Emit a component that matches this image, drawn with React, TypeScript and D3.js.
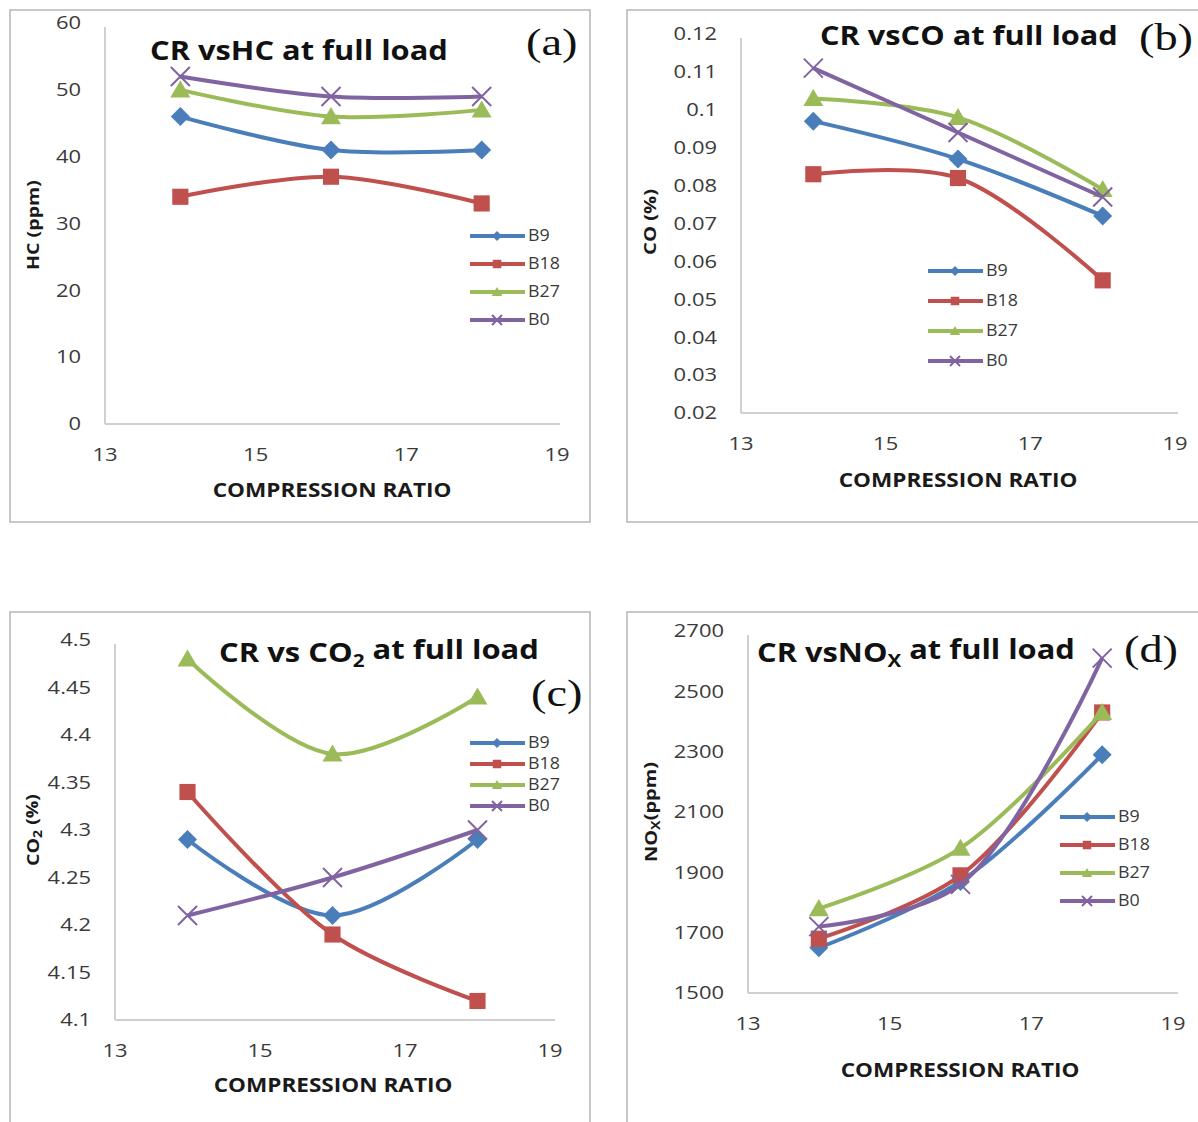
import React, { useEffect, useRef } from "react";
import * as d3 from "d3";

// compression ratios tested
const ratios = [14, 16, 18];
const seriesNames = ["B9", "B18", "B27", "B0"];
const colours = ["#4A7EBB", "#C0504D", "#9BBB59", "#8064A2"];

// HC (ppm)
const hcB9 = [46, 41, 41];
const hcB18 = [34, 37, 33];
const hcB27 = [50, 46, 47];
const hcB0 = [52, 49, 49];

// CO (%)
const coB9 = [0.097, 0.087, 0.072];
const coB18 = [0.083, 0.082, 0.055];
const coB27 = [0.103, 0.098, 0.079];
const coB0 = [0.111, 0.094, 0.077];

// CO2 (%)
const co2B9 = [4.29, 4.21, 4.29];
const co2B18 = [4.34, 4.19, 4.12];
const co2B27 = [4.48, 4.38, 4.44];
const co2B0 = [4.21, 4.25, 4.3];

// NOx (ppm)
const noxB9 = [1650, 1870, 2290];
const noxB18 = [1680, 1890, 2430];
const noxB27 = [1780, 1980, 2430];
const noxB0 = [1720, 1860, 2610];

const xTicks = [13, 15, 17, 19];
const hcTicks = [0, 10, 20, 30, 40, 50, 60];
const coTicks = [0.02, 0.03, 0.04, 0.05, 0.06, 0.07, 0.08, 0.09, 0.1, 0.11, 0.12];
const co2Ticks = [4.1, 4.15, 4.2, 4.25, 4.3, 4.35, 4.4, 4.45, 4.5];
const noxTicks = [1500, 1700, 1900, 2100, 2300, 2500, 2700];

const font = "'Open Sans', Lato, sans-serif";
const STRETCH = 1.22; // the original picture is stretched sideways

const panels = [
  {
    series: [hcB9, hcB18, hcB27, hcB0],
    yDomain: [0, 60], yTicks: hcTicks, fmt: (d) => String(d),
    box: [10, 10, 580, 512],
    x0: 105, x1: 557, xEnd: 560, yTop: 23, yBot: 424,
    title: ["CR vsHC at full load"], titleX: 150, titleY: 60, titleW: 298,
    letter: "(a)", letterX: 526, letterY: 55,
    yLabel: ["HC (ppm)"], yLabelX: 39, yLabelY: 225, yLabelW: 90,
    xLabelX: 332, xLabelY: 497,
    leg: [470, 236, 28],
  },
  {
    series: [coB9, coB18, coB27, coB0],
    yDomain: [0.02, 0.12], yTicks: coTicks, fmt: (d) => String(+d.toFixed(2)),
    box: [627, 10, 580, 512],
    x0: 741, x1: 1175, xEnd: 1178, yTop: 34, yBot: 413,
    title: ["CR vsCO at full load"], titleX: 820, titleY: 45, titleW: 298,
    letter: "(b)", letterX: 1139, letterY: 50,
    yLabel: ["CO (%)"], yLabelX: 656, yLabelY: 222, yLabelW: 66,
    xLabelX: 958, xLabelY: 487,
    leg: [928, 271, 30],
  },
  {
    series: [co2B9, co2B18, co2B27, co2B0],
    yDomain: [4.1, 4.5], yTicks: co2Ticks, fmt: (d) => String(+d.toFixed(2)),
    box: [10, 612, 580, 530],
    x0: 115, x1: 550, xEnd: 555, yTop: 640, yBot: 1020,
    title: ["CR vs CO", "2", " at full load"], titleX: 219, titleY: 662, titleW: 320,
    letter: "(c)", letterX: 531, letterY: 706,
    yLabel: ["CO", "2", " (%)"], yLabelX: 39, yLabelY: 830, yLabelW: 72,
    xLabelX: 333, xLabelY: 1092,
    leg: [470, 743, 21],
  },
  {
    series: [noxB9, noxB18, noxB27, noxB0],
    yDomain: [1500, 2700], yTicks: noxTicks, fmt: (d) => String(d),
    box: [627, 612, 580, 530],
    x0: 748, x1: 1173, xEnd: 1178, yTop: 631, yBot: 993,
    title: ["CR vsNO", "X", " at full load"], titleX: 757, titleY: 662, titleW: 318,
    letter: "(d)", letterX: 1124, letterY: 662,
    yLabel: ["NO", "X", "(ppm)"], yLabelX: 657, yLabelY: 812, yLabelW: 100,
    xLabelX: 960, xLabelY: 1077,
    leg: [1060, 817, 28],
  },
];

// marker shapes per series
function marker(g, i, colour, s) {
  if (i === 0) {
    g.append("path").attr("d", `M0,${-s}L${s},0L0,${s}L${-s},0Z`).attr("fill", colour);
  } else if (i === 1) {
    g.append("rect").attr("x", -s * 0.85).attr("y", -s * 0.85).attr("width", s * 1.7).attr("height", s * 1.7).attr("fill", colour);
  } else if (i === 2) {
    g.append("path").attr("d", `M0,${-s}L${s * 1.05},${s * 0.8}L${-s * 1.05},${s * 0.8}Z`).attr("fill", colour);
  } else {
    g.append("path").attr("d", `M${-s},${-s}L${s},${s}M${-s},${s}L${s},${-s}`)
      .attr("stroke", colour).attr("stroke-width", 2).attr("fill", "none");
  }
}

// text with subscript parts: [normal, sub, normal]
function richText(sel, parts, subSize) {
  parts.forEach((p, k) => {
    const t = sel.append("tspan").text(p);
    if (k === 1) t.attr("font-size", subSize).attr("dy", "0.3em");
    if (k === 2) t.attr("dy", "-0.3em");
  });
}

// squeeze/stretch text sideways so it takes the given length
function fit(sel, x, y, target, rot = "") {
  const w = sel.node().getComputedTextLength();
  const k = w > 0 ? target / w : 1;
  sel.attr("transform", `translate(${x},${y}) ${rot} scale(${k},1)`);
}

const App = () => {
  const ref = useRef(null);

  useEffect(() => {
    const svg = d3.select(ref.current);
    svg.selectAll("*").remove();

    panels.forEach((p) => {
      const g = svg.append("g");
      const x = d3.scaleLinear().domain([13, 19]).range([p.x0, p.x1]);
      const y = d3.scaleLinear().domain(p.yDomain).range([p.yBot, p.yTop]);

      g.append("rect")
        .attr("x", p.box[0]).attr("y", p.box[1])
        .attr("width", p.box[2]).attr("height", p.box[3])
        .attr("fill", "white").attr("stroke", "#b5b5b5").attr("stroke-width", 1.5);

      // axis lines
      g.append("line").attr("x1", p.x0).attr("x2", p.x0).attr("y1", p.yTop + 4).attr("y2", p.yBot)
        .attr("stroke", "#d0d0d0").attr("stroke-width", 2);
      g.append("line").attr("x1", p.x0).attr("x2", p.xEnd).attr("y1", p.yBot).attr("y2", p.yBot)
        .attr("stroke", "#d0d0d0").attr("stroke-width", 2);

      g.selectAll(".yt").data(p.yTicks).join("text")
        .attr("transform", (d) => `translate(${p.x0 - 24},${y(d)}) scale(${STRETCH},1)`)
        .attr("dy", "0.35em")
        .attr("text-anchor", "end").attr("font-family", font).attr("font-size", 18).attr("fill", "#3a3a3a")
        .text(p.fmt);

      g.selectAll(".xt").data(xTicks).join("text")
        .attr("transform", (d) => `translate(${x(d)},${p.yBot + 31}) scale(${STRETCH},1)`)
        .attr("dy", "0.35em")
        .attr("text-anchor", "middle").attr("font-family", font).attr("font-size", 18).attr("fill", "#3a3a3a")
        .text((d) => d);

      const xl = g.append("text")
        .attr("text-anchor", "middle").attr("font-family", font).attr("font-weight", "bold")
        .attr("font-size", 19.5).attr("fill", "#1a1a1a").text("COMPRESSION RATIO");
      fit(xl, p.xLabelX, p.xLabelY, 239);

      const yl = g.append("text")
        .attr("text-anchor", "middle").attr("font-family", font).attr("font-weight", "bold")
        .attr("font-size", 16).attr("fill", "#1a1a1a");
      richText(yl, p.yLabel, 11.5);
      fit(yl, p.yLabelX, p.yLabelY, p.yLabelW, "rotate(-90)");

      const tt = g.append("text")
        .attr("font-family", font).attr("font-weight", "bold").attr("font-size", 27).attr("fill", "#111");
      richText(tt, p.title, 18);
      fit(tt, p.titleX, p.titleY, p.titleW);

      g.append("text")
        .attr("transform", `translate(${p.letterX},${p.letterY}) scale(1.22,1)`)
        .attr("font-family", "'Liberation Serif', serif").attr("font-size", 38).attr("fill", "#111")
        .text(p.letter);

      const line = d3.line().x((d, i) => x(ratios[i])).y((d) => y(d)).curve(d3.curveCatmullRom);

      p.series.forEach((vals, i) => {
        g.append("path").attr("d", line(vals)).attr("fill", "none")
          .attr("stroke", colours[i]).attr("stroke-width", 4);
        vals.forEach((v, j) => {
          const m = g.append("g").attr("transform", `translate(${x(ratios[j])},${y(v)})`);
          marker(m, i, colours[i], 9.5);
        });
      });

      // legend
      const [lx, ly, step] = p.leg;
      seriesNames.forEach((name, i) => {
        const row = ly + i * step;
        g.append("line").attr("x1", lx).attr("x2", lx + 55).attr("y1", row).attr("y2", row)
          .attr("stroke", colours[i]).attr("stroke-width", 4);
        const m = g.append("g").attr("transform", `translate(${lx + 27},${row})`);
        marker(m, i, colours[i], 5);
        g.append("text")
          .attr("transform", `translate(${lx + 58},${row}) scale(1.15,1)`)
          .attr("dy", "0.35em")
          .attr("font-family", font).attr("font-size", 15.5).attr("fill", "#3a3a3a").text(name);
      });
    });
  }, []);

  return (
    <div>
      <svg ref={ref} width={1198} height={1122}
        style={{ position: "absolute", left: 0, top: 0, background: "white" }} />
    </div>
  );
};

export default App;
